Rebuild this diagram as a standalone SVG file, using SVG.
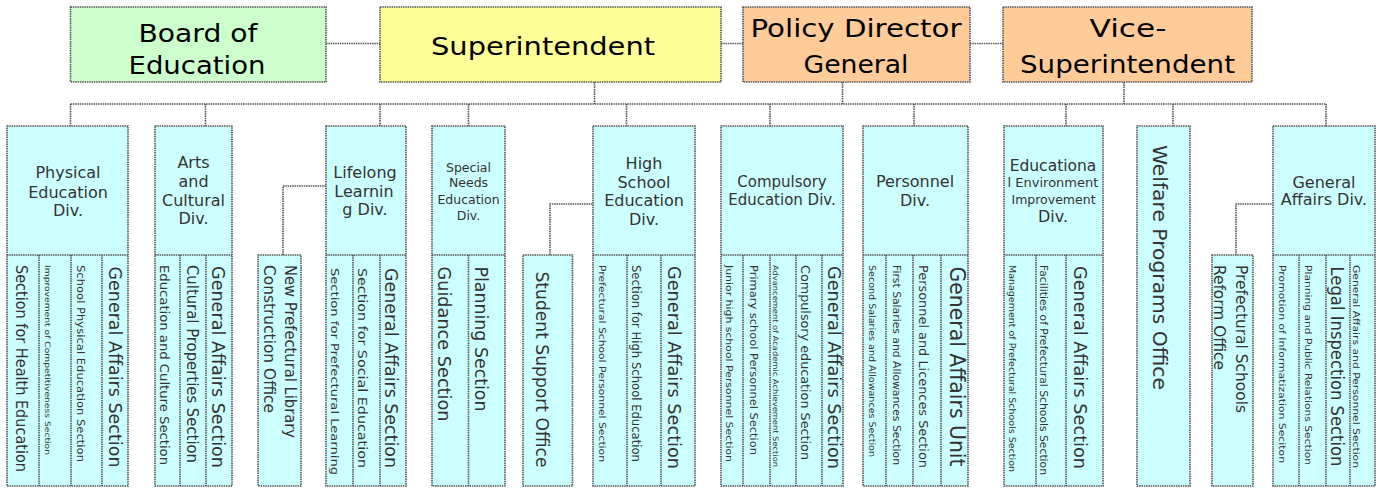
<svg xmlns="http://www.w3.org/2000/svg" width="1383" height="490" viewBox="0 0 1383 490">
<style>
.b{stroke:#555;stroke-width:1.6;stroke-dasharray:1.5 0.8}
.c{fill:#ccffff}
.g{fill:#ccffcc}.y{fill:#ffff99}.o{fill:#ffcc99}
.l{fill:none;stroke:#555;stroke-width:1.6;stroke-dasharray:1.5 0.8}
.t{font-family:"DejaVu Sans",sans-serif;fill:#000;text-anchor:middle;font-size:24px}
.h{font-family:"DejaVu Sans",sans-serif;fill:#333;text-anchor:middle;font-size:16px}
.v{font-family:"DejaVu Sans",sans-serif;fill:#333;dominant-baseline:central}
</style>
<g id="connectors" class="l">
<path d="M326 43.5H380M721 43.5H743M970 43.5H1003"/>
<path d="M594.5 82V104M842.5 82V104M1124 82V104"/>
<path d="M70.5 104H1326"/>
<path d="M70.5 104V126M205.5 104V126M380 104V126M468.5 104V126M626.5 104V126M770 104V126M914 104V126M1066 104V126M1173 104V126M1326 104V126"/>
<path d="M283 255V186H326M550 255V204H593M1236 255V204H1273"/>
</g>
<g id="board">
<rect class="b g" x="70.5" y="7" width="255.5" height="75"/>
<text class="t" x="198" y="42" textLength="119" lengthAdjust="spacingAndGlyphs">Board of</text>
<text class="t" x="197" y="74" textLength="137" lengthAdjust="spacingAndGlyphs">Education</text>
</g>
<g id="superintendent">
<rect class="b y" x="380" y="7" width="341" height="75"/>
<text class="t" x="543" y="55" textLength="224" lengthAdjust="spacingAndGlyphs">Superintendent</text>
</g>
<g id="policy">
<rect class="b o" x="743" y="7" width="227" height="75"/>
<text class="t" x="856" y="37" textLength="211" lengthAdjust="spacingAndGlyphs">Policy Director</text>
<text class="t" x="856" y="73" textLength="105" lengthAdjust="spacingAndGlyphs">General</text>
</g>
<g id="vice">
<rect class="b o" x="1003" y="7" width="249" height="75"/>
<text class="t" x="1128" y="37" textLength="77" lengthAdjust="spacingAndGlyphs">Vice-</text>
<text class="t" x="1127.5" y="73" textLength="215" lengthAdjust="spacingAndGlyphs">Superintendent</text>
</g>
<g id="physical">
<rect class="b c" x="7" y="126" width="121" height="360"/>
<path class="l" d="M7 255H128M39 255V486M71 255V486M102 255V486"/>
<text class="h" x="68" y="178">Physical</text>
<text class="h" x="68" y="197.5">Education</text>
<text class="h" x="68" y="216">Div.</text>
<text class="v" font-size="15" transform="translate(20.5,265) rotate(90)" textLength="207" lengthAdjust="spacingAndGlyphs">Section for Health Education</text>
<text class="v" font-size="7.5" transform="translate(47.5,265) rotate(90)" textLength="190" lengthAdjust="spacingAndGlyphs">Improvement of Competitiveness Section</text>
<text class="v" font-size="10" transform="translate(80,265) rotate(90)" textLength="197" lengthAdjust="spacingAndGlyphs">School Physical Education Section</text>
<text class="v" font-size="18" transform="translate(115,266.5) rotate(90)" textLength="201" lengthAdjust="spacingAndGlyphs">General Affairs Section</text>
</g>
<g id="arts">
<rect class="b c" x="155" y="126" width="77" height="360"/>
<path class="l" d="M155 255H232M180 255V486M206 255V486"/>
<text class="h" x="193.5" y="168">Arts</text>
<text class="h" x="193.5" y="187">and</text>
<text class="h" x="193.5" y="206">Cultural</text>
<text class="h" x="193.5" y="224">Div.</text>
<text class="v" font-size="12" transform="translate(163.5,265) rotate(90)" textLength="200" lengthAdjust="spacingAndGlyphs">Education and Culture Section</text>
<text class="v" font-size="15" transform="translate(191.5,265) rotate(90)" textLength="198" lengthAdjust="spacingAndGlyphs">Cultural Properties Section</text>
<text class="v" font-size="17" transform="translate(218,266) rotate(90)" textLength="202" lengthAdjust="spacingAndGlyphs">General Affairs Section</text>
</g>
<g id="library">
<rect class="b c" x="258" y="255" width="43" height="231"/>
<text class="v" font-size="16" transform="translate(290,265) rotate(90)" textLength="173" lengthAdjust="spacingAndGlyphs">New Prefectural Library</text>
<text class="v" font-size="16" transform="translate(269,265) rotate(90)" textLength="148" lengthAdjust="spacingAndGlyphs">Construction Office</text>
</g>
<g id="lifelong">
<rect class="b c" x="326" y="126" width="80" height="360"/>
<path class="l" d="M326 255H406M353 255V486M380 255V486"/>
<text class="h" x="365" y="178">Lifelong</text>
<text class="h" x="364" y="196.5">Learnin</text>
<text class="h" x="365" y="215">g Div.</text>
<text class="v" font-size="11" transform="translate(334,268) rotate(90)" textLength="207" lengthAdjust="spacingAndGlyphs">Section for Prefectural Learning</text>
<text class="v" font-size="13" transform="translate(362.5,268) rotate(90)" textLength="200" lengthAdjust="spacingAndGlyphs">Section for Social Education</text>
<text class="v" font-size="17" transform="translate(391,268) rotate(90)" textLength="200" lengthAdjust="spacingAndGlyphs">General Affairs Section</text>
</g>
<g id="special">
<rect class="b c" x="432" y="126" width="73" height="360"/>
<path class="l" d="M432 255H505M468.5 255V486"/>
<text class="h" x="468.5" y="171.5" style="font-size:12.5px">Special</text>
<text class="h" x="468.5" y="187" style="font-size:12.5px">Needs</text>
<text class="h" x="468.5" y="203.5" style="font-size:12.5px">Education</text>
<text class="h" x="468.5" y="219.5" style="font-size:12.5px">Div.</text>
<text class="v" font-size="18" transform="translate(444.5,266.5) rotate(90)" textLength="155" lengthAdjust="spacingAndGlyphs">Guidance Section</text>
<text class="v" font-size="18" transform="translate(481,266.5) rotate(90)" textLength="145" lengthAdjust="spacingAndGlyphs">Planning Section</text>
</g>
<g id="student">
<rect class="b c" x="523" y="255" width="49.5" height="231"/>
<text class="v" font-size="17" transform="translate(542,271.5) rotate(90)" textLength="196" lengthAdjust="spacingAndGlyphs">Student Support Office</text>
</g>
<g id="highschool">
<rect class="b c" x="593" y="126" width="102" height="360"/>
<path class="l" d="M593 255H695M627 255V486M661 255V486"/>
<text class="h" x="644" y="168.5">High</text>
<text class="h" x="644" y="187.5">School</text>
<text class="h" x="644" y="206">Education</text>
<text class="h" x="644" y="224.5">Div.</text>
<text class="v" font-size="9.5" transform="translate(602.5,265) rotate(90)" textLength="197" lengthAdjust="spacingAndGlyphs">Prefectural School Personnel Section</text>
<text class="v" font-size="12" transform="translate(636,265) rotate(90)" textLength="197" lengthAdjust="spacingAndGlyphs">Section for High School Education</text>
<text class="v" font-size="18" transform="translate(674,266) rotate(90)" textLength="203" lengthAdjust="spacingAndGlyphs">General Affairs Section</text>
</g>
<g id="compulsory">
<rect class="b c" x="721" y="126" width="122" height="360"/>
<path class="l" d="M721 255H843M743 255V486M770 255V486M796 255V486M822 255V486"/>
<text class="h" x="782" y="187" style="font-size:15px">Compulsory</text>
<text class="h" x="782" y="204.5" style="font-size:15px">Education Div.</text>
<text class="v" font-size="9" transform="translate(728.5,265) rotate(90)" textLength="197" lengthAdjust="spacingAndGlyphs">Junior high school Personnel Section</text>
<text class="v" font-size="11" transform="translate(753,265) rotate(90)" textLength="190" lengthAdjust="spacingAndGlyphs">Primary school Personnel Section</text>
<text class="v" font-size="7.5" transform="translate(775.8,265) rotate(90)" textLength="202" lengthAdjust="spacingAndGlyphs">Advancement of Academic Achievement Section</text>
<text class="v" font-size="13" transform="translate(805,265) rotate(90)" textLength="195" lengthAdjust="spacingAndGlyphs">Compulsory education Section</text>
<text class="v" font-size="17" transform="translate(833.5,266) rotate(90)" textLength="203" lengthAdjust="spacingAndGlyphs">General Affairs Section</text>
</g>
<g id="personnel">
<rect class="b c" x="863" y="126" width="105" height="360"/>
<path class="l" d="M863 255H968M886 255V486M913 255V486M941 255V486"/>
<text class="h" x="915" y="187">Personnel</text>
<text class="h" x="915" y="206">Div.</text>
<text class="v" font-size="8.5" transform="translate(872,265) rotate(90)" textLength="192" lengthAdjust="spacingAndGlyphs">Second Salaries and Allowances Section</text>
<text class="v" font-size="10" transform="translate(896,265) rotate(90)" textLength="200" lengthAdjust="spacingAndGlyphs">First Salaries and Allowances Section</text>
<text class="v" font-size="13" transform="translate(923,265) rotate(90)" textLength="203" lengthAdjust="spacingAndGlyphs">Personnel and Licences Section</text>
<text class="v" font-size="21" transform="translate(957,266.5) rotate(90)" textLength="200" lengthAdjust="spacingAndGlyphs">General Affairs Unit</text>
</g>
<g id="environment">
<rect class="b c" x="1004" y="126" width="99" height="360"/>
<path class="l" d="M1004 255H1103M1036 255V486M1066 255V486"/>
<text class="h" x="1053" y="171" style="font-size:15.5px">Educationa</text>
<text class="h" x="1053" y="187" style="font-size:13px">l Environment</text>
<text class="h" x="1053.5" y="203.5" style="font-size:12.5px">Improvement</text>
<text class="h" x="1053" y="222">Div.</text>
<text class="v" font-size="8.5" transform="translate(1012,265) rotate(90)" textLength="207" lengthAdjust="spacingAndGlyphs">Management of Prefectural Schools Section</text>
<text class="v" font-size="10.5" transform="translate(1044,265) rotate(90)" textLength="210" lengthAdjust="spacingAndGlyphs">Facilities of Prefectural Schools Section</text>
<text class="v" font-size="18" transform="translate(1080,266) rotate(90)" textLength="203" lengthAdjust="spacingAndGlyphs">General Affairs Section</text>
</g>
<g id="welfare">
<rect class="b c" x="1137" y="126" width="53" height="360"/>
<text class="v" font-size="19" transform="translate(1160,145) rotate(90)" textLength="245" lengthAdjust="spacingAndGlyphs">Welfare Programs Office</text>
</g>
<g id="reform">
<rect class="b c" x="1212" y="255" width="41" height="231"/>
<text class="v" font-size="16" transform="translate(1241.5,265) rotate(90)" textLength="148" lengthAdjust="spacingAndGlyphs">Prefectural Schools</text>
<text class="v" font-size="16" transform="translate(1219.5,265) rotate(90)" textLength="105" lengthAdjust="spacingAndGlyphs">Reform Office</text>
</g>
<g id="general">
<rect class="b c" x="1273" y="126" width="102" height="360"/>
<path class="l" d="M1273 255H1375M1299 255V486M1326 255V486M1350 255V486"/>
<text class="h" x="1324" y="188">General</text>
<text class="h" x="1324" y="205">Affairs Div.</text>
<text class="v" font-size="9" transform="translate(1282,265) rotate(90)" textLength="198" lengthAdjust="spacingAndGlyphs">Promotion of Informatization Seciton</text>
<text class="v" font-size="9" transform="translate(1308,265) rotate(90)" textLength="200" lengthAdjust="spacingAndGlyphs">Planning and Public Relations Section</text>
<text class="v" font-size="17" transform="translate(1336.5,266.5) rotate(90)" textLength="200" lengthAdjust="spacingAndGlyphs">Legal Inspection Section</text>
<text class="v" font-size="8" transform="translate(1355.8,265) rotate(90)" textLength="203" lengthAdjust="spacingAndGlyphs">General Affairs and Personnel Section</text>
</g>
</svg>
